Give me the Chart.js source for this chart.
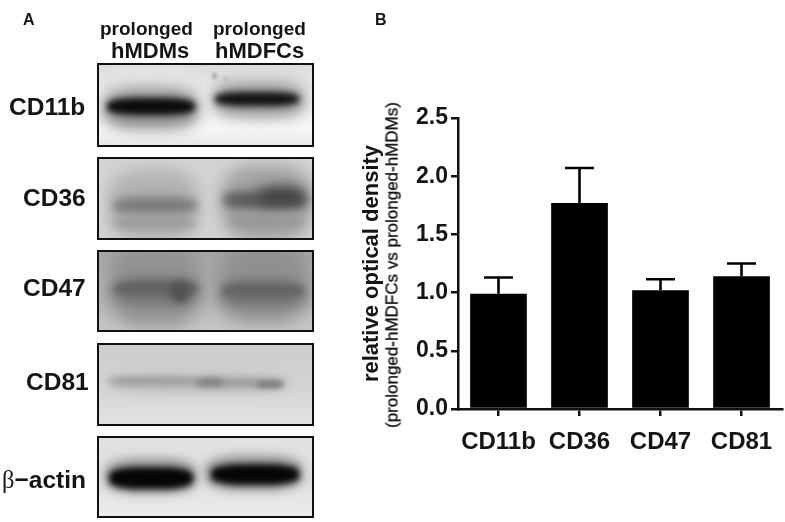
<!DOCTYPE html>
<html>
<head>
<meta charset="utf-8">
<title>prolonged hMDMs vs hMDFCs</title>
<script src="https://cdn.jsdelivr.net/npm/chart.js@4/dist/chart.umd.min.js"></script>
<style>
  html, body { margin: 0; padding: 0; background: #fff; }
  #page { position: relative; width: 785px; height: 522px; overflow: hidden; font-family: "Liberation Sans", Arial, sans-serif; color: #151515; }
  #bar-chart { position: absolute; left: 0; top: 0; }
  .txt { position: absolute; font-weight: bold; white-space: nowrap; line-height: 1; }
  .blot { position: absolute; left: 97px; width: 217px; box-sizing: border-box; border: 2.5px solid #111; overflow: hidden; }
  .band { position: absolute; border-radius: 35%; }
  #sub-title { transform: translate(-50%, -50%) rotate(-90deg); font-weight: normal; -webkit-text-stroke: 0.35px #151515; }
</style>
</head>
<body>
<div id="page">
  <canvas id="bar-chart" width="785" height="522"></canvas>
  <div id="sub-title" class="txt" style="left:392px;top:265px;font-size:17px;">(prolonged-hMDFCs vs prolonged-hMDMs)</div>
</div>
<script>
// ─────────────────────────────────────────────
//  Data
// ─────────────────────────────────────────────
const categories = ['CD11b', 'CD36', 'CD47', 'CD81'];
const density    = [0.99, 1.77, 1.02, 1.14];
const errorTop   = [1.13, 2.07, 1.115, 1.25];
const yTicks     = [0.0, 0.5, 1.0, 1.5, 2.0, 2.5];

const yTitle     = 'relative optical density';
const laneLabels = ['prolonged', 'prolonged'];
const laneCells  = ['hMDMs', 'hMDFCs'];

// ─────────────────────────────────────────────
//  Panel A: blot strips (picture, not chart data)
// ─────────────────────────────────────────────
const blots = [
  { top: 63, height: 84, bg: 'linear-gradient(#dcdcdc, #ececec 35%, #f6f6f6 80%, #e8e8e8)', bands: [
    [0, 2, 96, 30, '#e2e2e2', 6], [112, 2, 95, 22, '#dedede', 6],
    [4, 24, 96, 40, '#8c8c8c', 7], [114, 18, 92, 34, '#949494', 7],
    [8, 33, 88, 17, '#0c0c0c', 3], [116, 27, 84, 14, '#141414', 3],
    [113, 8, 5, 6, '#aaa', 1.5], [125, 12, 4, 4, '#b4b4b4', 1.5],
  ]},
  { top: 157, height: 83, bg: '#d4d4d4', bands: [
    [10, 10, 90, 72, '#b2b2b2', 8], [122, 6, 90, 76, '#a2a2a2', 8],
    [14, 38, 84, 17, '#7a7a7a', 5], [14, 58, 82, 12, '#999', 4],
    [124, 32, 84, 18, '#5c5c5c', 5], [160, 28, 46, 18, '#424242', 7], [132, 56, 72, 12, '#979797', 4],
  ]},
  { top: 250, height: 82, bg: 'linear-gradient(#a8a8a8, #b4b4b4 55%, #c8c8c8)', bands: [
    [10, -10, 92, 84, '#929292', 9], [118, -10, 92, 80, '#909090', 9],
    [14, 26, 86, 26, '#727272', 6], [122, 28, 84, 26, '#727272', 6],
    [16, 30, 82, 12, '#626262', 3], [124, 32, 80, 12, '#646464', 3], [72, 30, 18, 20, '#505050', 4],
  ]},
  { top: 343, height: 83, bg: 'linear-gradient(#cccccc, #d4d4d4 55%, #e2e2e2)', bands: [
    [10, 28, 180, 20, '#c0c0c0', 5], [10, 32, 88, 8, '#9a9a9a', 3], [92, 34, 92, 8, '#9a9a9a', 3],
    [98, 33, 26, 8, '#828282', 3], [158, 36, 26, 7, '#7c7c7c', 2.5],
  ]},
  { top: 436, height: 82, bg: 'linear-gradient(#e2e2e2, #dedede 50%, #ececec)', bands: [
    [6, 20, 92, 36, '#9a9a9a', 5], [106, 17, 98, 36, '#9a9a9a', 5],
    [10, 29, 84, 22, '#060606', 3], [112, 26, 88, 21, '#060606', 3],
  ]},
];

// text: [string, left, vertical centre, font size]
const panelText = [
  ['A', 23, 20, 16], ['B', 375, 20, 16],
  [laneLabels[0], 100, 28, 19], [laneLabels[1], 213, 28, 19],
  [laneCells[0], 111, 51, 22], [laneCells[1], 215, 51, 22],
  ['CD11b', 9, 107, 24.5], ['CD36', 23, 198, 24.5], ['CD47', 23, 288, 24.5], ['CD81', 26, 382, 24.5],
];

const page = document.getElementById('page');

blots.forEach(b => {
  const el = document.createElement('div');
  el.className = 'blot';
  el.style.top = b.top + 'px';
  el.style.height = b.height + 'px';
  el.style.background = b.bg;
  b.bands.forEach(([x, y, w, h, color, blur]) => {
    const band = document.createElement('div');
    band.className = 'band';
    band.style.cssText += `left:${x}px;top:${y}px;width:${w}px;height:${h}px;background:${color};filter:blur(${blur}px);`;
    el.appendChild(band);
  });
  page.appendChild(el);
});

panelText.forEach(([text, left, mid, size]) => {
  const el = document.createElement('div');
  el.className = 'txt';
  el.textContent = text;
  el.style.cssText += `left:${left}px;top:${mid - size / 2}px;font-size:${size}px;`;
  page.appendChild(el);
});

// β-actin mixes a serif beta with the bold word
const actin = document.createElement('div');
actin.className = 'txt';
actin.style.cssText += 'left:2px;top:468px;font-size:24.5px;';
actin.innerHTML = '<span style="font-family:\'Liberation Serif\',serif;font-weight:normal">β</span>−actin';
page.appendChild(actin);

// ─────────────────────────────────────────────
//  Panel B: bar chart
// ─────────────────────────────────────────────
const errorBars = {
  id: 'errorBars',
  afterDatasetsDraw(chart) {
    const { ctx, scales: { y } } = chart;
    const bars = chart.getDatasetMeta(0).data;
    ctx.save();
    ctx.strokeStyle = '#000';
    ctx.lineWidth = 2.6;
    bars.forEach((bar, i) => {
      const top = y.getPixelForValue(errorTop[i]);
      ctx.beginPath();
      ctx.moveTo(bar.x, bar.y);
      ctx.lineTo(bar.x, top);
      ctx.moveTo(bar.x - 14.5, top);
      ctx.lineTo(bar.x + 14.5, top);
      ctx.stroke();
    });
    ctx.restore();
  },
};

const family = "'Liberation Sans', Arial, sans-serif";

new Chart(document.getElementById('bar-chart'), {
  type: 'bar',
  data: {
    labels: categories,
    datasets: [{
      data: density,
      backgroundColor: '#000',
      barPercentage: 0.7,
      categoryPercentage: 1,
    }],
  },
  plugins: [errorBars],
  options: {
    responsive: false,
    animation: false,
    layout: { padding: { top: 118, right: 3, left: 0, bottom: 0 } },
    plugins: { legend: { display: false }, tooltip: { enabled: false } },
    scales: {
      x: {
        grid: { display: true, offset: false, drawOnChartArea: false, color: '#111', lineWidth: 2.5, tickLength: 7 },
        border: { color: '#111', width: 2.5 },
        ticks: { color: '#151515', font: { family, size: 24, weight: 'bold' }, padding: 12, maxRotation: 0, autoSkip: false },
        afterFit: s => { s.height = 113; },
      },
      y: {
        min: 0,
        max: 2.5,
        afterBuildTicks: s => { s.ticks = yTicks.map(value => ({ value })); },
        grid: { display: true, drawOnChartArea: false, color: '#111', lineWidth: 2.5, tickLength: 7 },
        border: { color: '#111', width: 2.5 },
        ticks: { color: '#151515', font: { family, size: 23, weight: 'bold' }, padding: 3, callback: v => v.toFixed(1) },
        title: {
          display: true,
          text: yTitle,
          color: '#151515',
          font: { family, size: 22, weight: 'bold' },
          padding: { top: 359, bottom: 0 },
        },
        afterFit: s => { s.width = 458; },
      },
    },
  },
});
</script>
</body>
</html>
